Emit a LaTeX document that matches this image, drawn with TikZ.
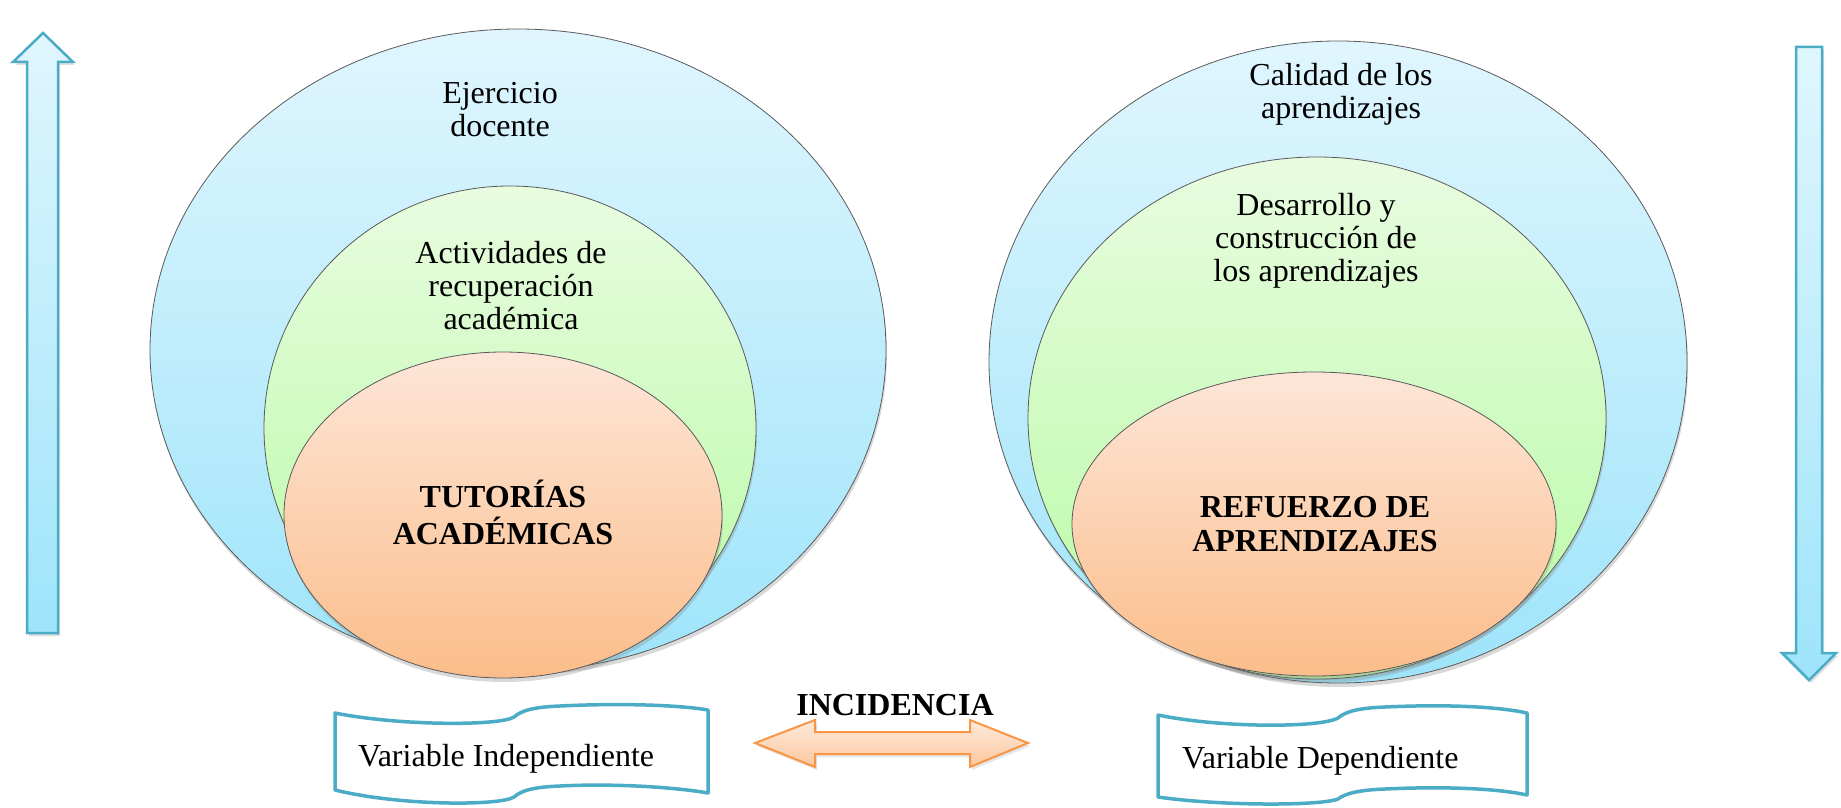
\documentclass[tikz,border=0pt]{standalone}
\usepackage{fontspec}
\setmainfont{Liberation Serif}
\usetikzlibrary{shapes.geometric,shadows}
\definecolor{bluetop}{RGB}{224,246,254}
\definecolor{bluebot}{RGB}{158,228,250}
\definecolor{greentop}{RGB}{232,252,224}
\definecolor{greenbot}{RGB}{184,250,164}
\definecolor{orangetop}{RGB}{253,230,216}
\definecolor{orangebot}{RGB}{251,189,138}
\definecolor{arrowblue}{RGB}{75,172,198}
\definecolor{arroworange}{RGB}{247,150,70}
\definecolor{dblarrtop}{RGB}{254,234,219}
\definecolor{dblarrbot}{RGB}{251,199,158}
\definecolor{ellline}{RGB}{90,90,90}
\newcommand{\mylines}[1]{\begin{tabular}[t]{@{}c@{}}#1\end{tabular}}
\begin{document}
\begin{tikzpicture}[x=1pt,y=-1pt,
  ell/.style={ellipse, inner sep=0pt, draw=ellline, line width=0.8pt,
    drop shadow={shadow xshift=1pt, shadow yshift=-4pt, opacity=0.3}},
  blueell/.style={ell, top color=bluetop, bottom color=bluebot},
  greenell/.style={ell, top color=greentop, bottom color=greenbot},
  orangeell/.style={ell, top color=orangetop, bottom color=orangebot},
  lbl/.style={anchor=base, inner sep=0pt, font=\fontsize{32}{33}\selectfont},
  boldlbl/.style={anchor=base, inner sep=0pt, font=\fontsize{32}{34}\selectfont\bfseries},
  vararrow/.style={draw=arrowblue, line width=2.5pt, line join=miter, top color=bluetop, bottom color=bluebot,
    drop shadow={shadow xshift=2pt, shadow yshift=-3pt, opacity=0.25}},
  dblarrow/.style={draw=arroworange, line width=2pt, line join=miter, top color=dblarrtop, bottom color=dblarrbot,
    drop shadow={shadow xshift=2pt, shadow yshift=-3pt, opacity=0.2}},
  wavebox/.style={draw=arrowblue, line width=3.5pt, fill=white, line join=round}
]
\useasboundingbox (0,0) rectangle (1841,808);

% left nested ellipses
\node[blueell, minimum width=736pt, minimum height=642pt] (lblue) at (518,350) {};
\node[greenell, minimum width=492pt, minimum height=484pt] (lgreen) at (510,428) {};
\node[orangeell, minimum width=438pt, minimum height=326pt] (lorange) at (503,515) {};

% right nested ellipses
\node[blueell, minimum width=698pt, minimum height=642pt] (rblue) at (1338,362) {};
\node[greenell, minimum width=578pt, minimum height=522pt] (rgreen) at (1317,418) {};
\node[orangeell, minimum width=484pt, minimum height=304pt] (rorange) at (1314,524) {};

% texts in ellipses
\node[lbl] (tej) at (500,103) {\mylines{Ejercicio\\docente}};
\node[lbl] (tact) at (511,263) {\mylines{Actividades de\\recuperación\\académica}};
\node[boldlbl] (ttut) at (503,507) {\mylines{TUTORÍAS\\ACADÉMICAS}};
\node[lbl] (tcal) at (1341,85) {\mylines{Calidad de los\\aprendizajes}};
\node[lbl] (tdes) at (1316,215) {\mylines{Desarrollo y\\construcción de\\los aprendizajes}};
\node[boldlbl] (tref) at (1315,517) {\mylines{REFUERZO DE\\APRENDIZAJES}};

% side arrows
\path[vararrow] (43,33) -- (73,62) -- (58,62) -- (58,633) -- (27,633) -- (27,62) -- (13,62) -- cycle;
\path[vararrow] (1796,47) -- (1822,47) -- (1822,653) -- (1836,653) -- (1809,680) -- (1782,653) -- (1796,653) -- cycle;

% double arrow
\path[dblarrow] (755,743) -- (815,720) -- (815,732) -- (970,732) -- (970,720) -- (1028,743)
  -- (970,767) -- (970,754) -- (815,754) -- (815,767) -- cycle;
\node[boldlbl] (tinc) at (895,715) {INCIDENCIA};

% wave boxes
\path[wavebox] (335,713) .. controls (400,726) and (500,726) .. (514,717)
  .. controls (522,710) and (535,707) .. (560,706)
  .. controls (620,703) and (680,705) .. (708,710) -- (708,793)
  .. controls (680,788) and (620,783) .. (560,786)
  .. controls (535,787) and (522,790) .. (514,797)
  .. controls (500,806) and (400,806) .. (335,790) -- cycle;
\node[lbl, anchor=base west] (tvi) at (358,766) {Variable Independiente};

\path[wavebox] (1158,715) .. controls (1220,728) and (1320,728) .. (1338,718)
  .. controls (1346,711) and (1360,708) .. (1385,707)
  .. controls (1450,704) and (1500,707) .. (1527,713) -- (1527,795)
  .. controls (1500,789) and (1450,786) .. (1385,789)
  .. controls (1360,790) and (1346,793) .. (1338,799)
  .. controls (1320,806) and (1220,806) .. (1158,797) -- cycle;
\node[lbl, anchor=base west] (tvd) at (1182,768) {Variable Dependiente};
\end{tikzpicture}
\end{document}
